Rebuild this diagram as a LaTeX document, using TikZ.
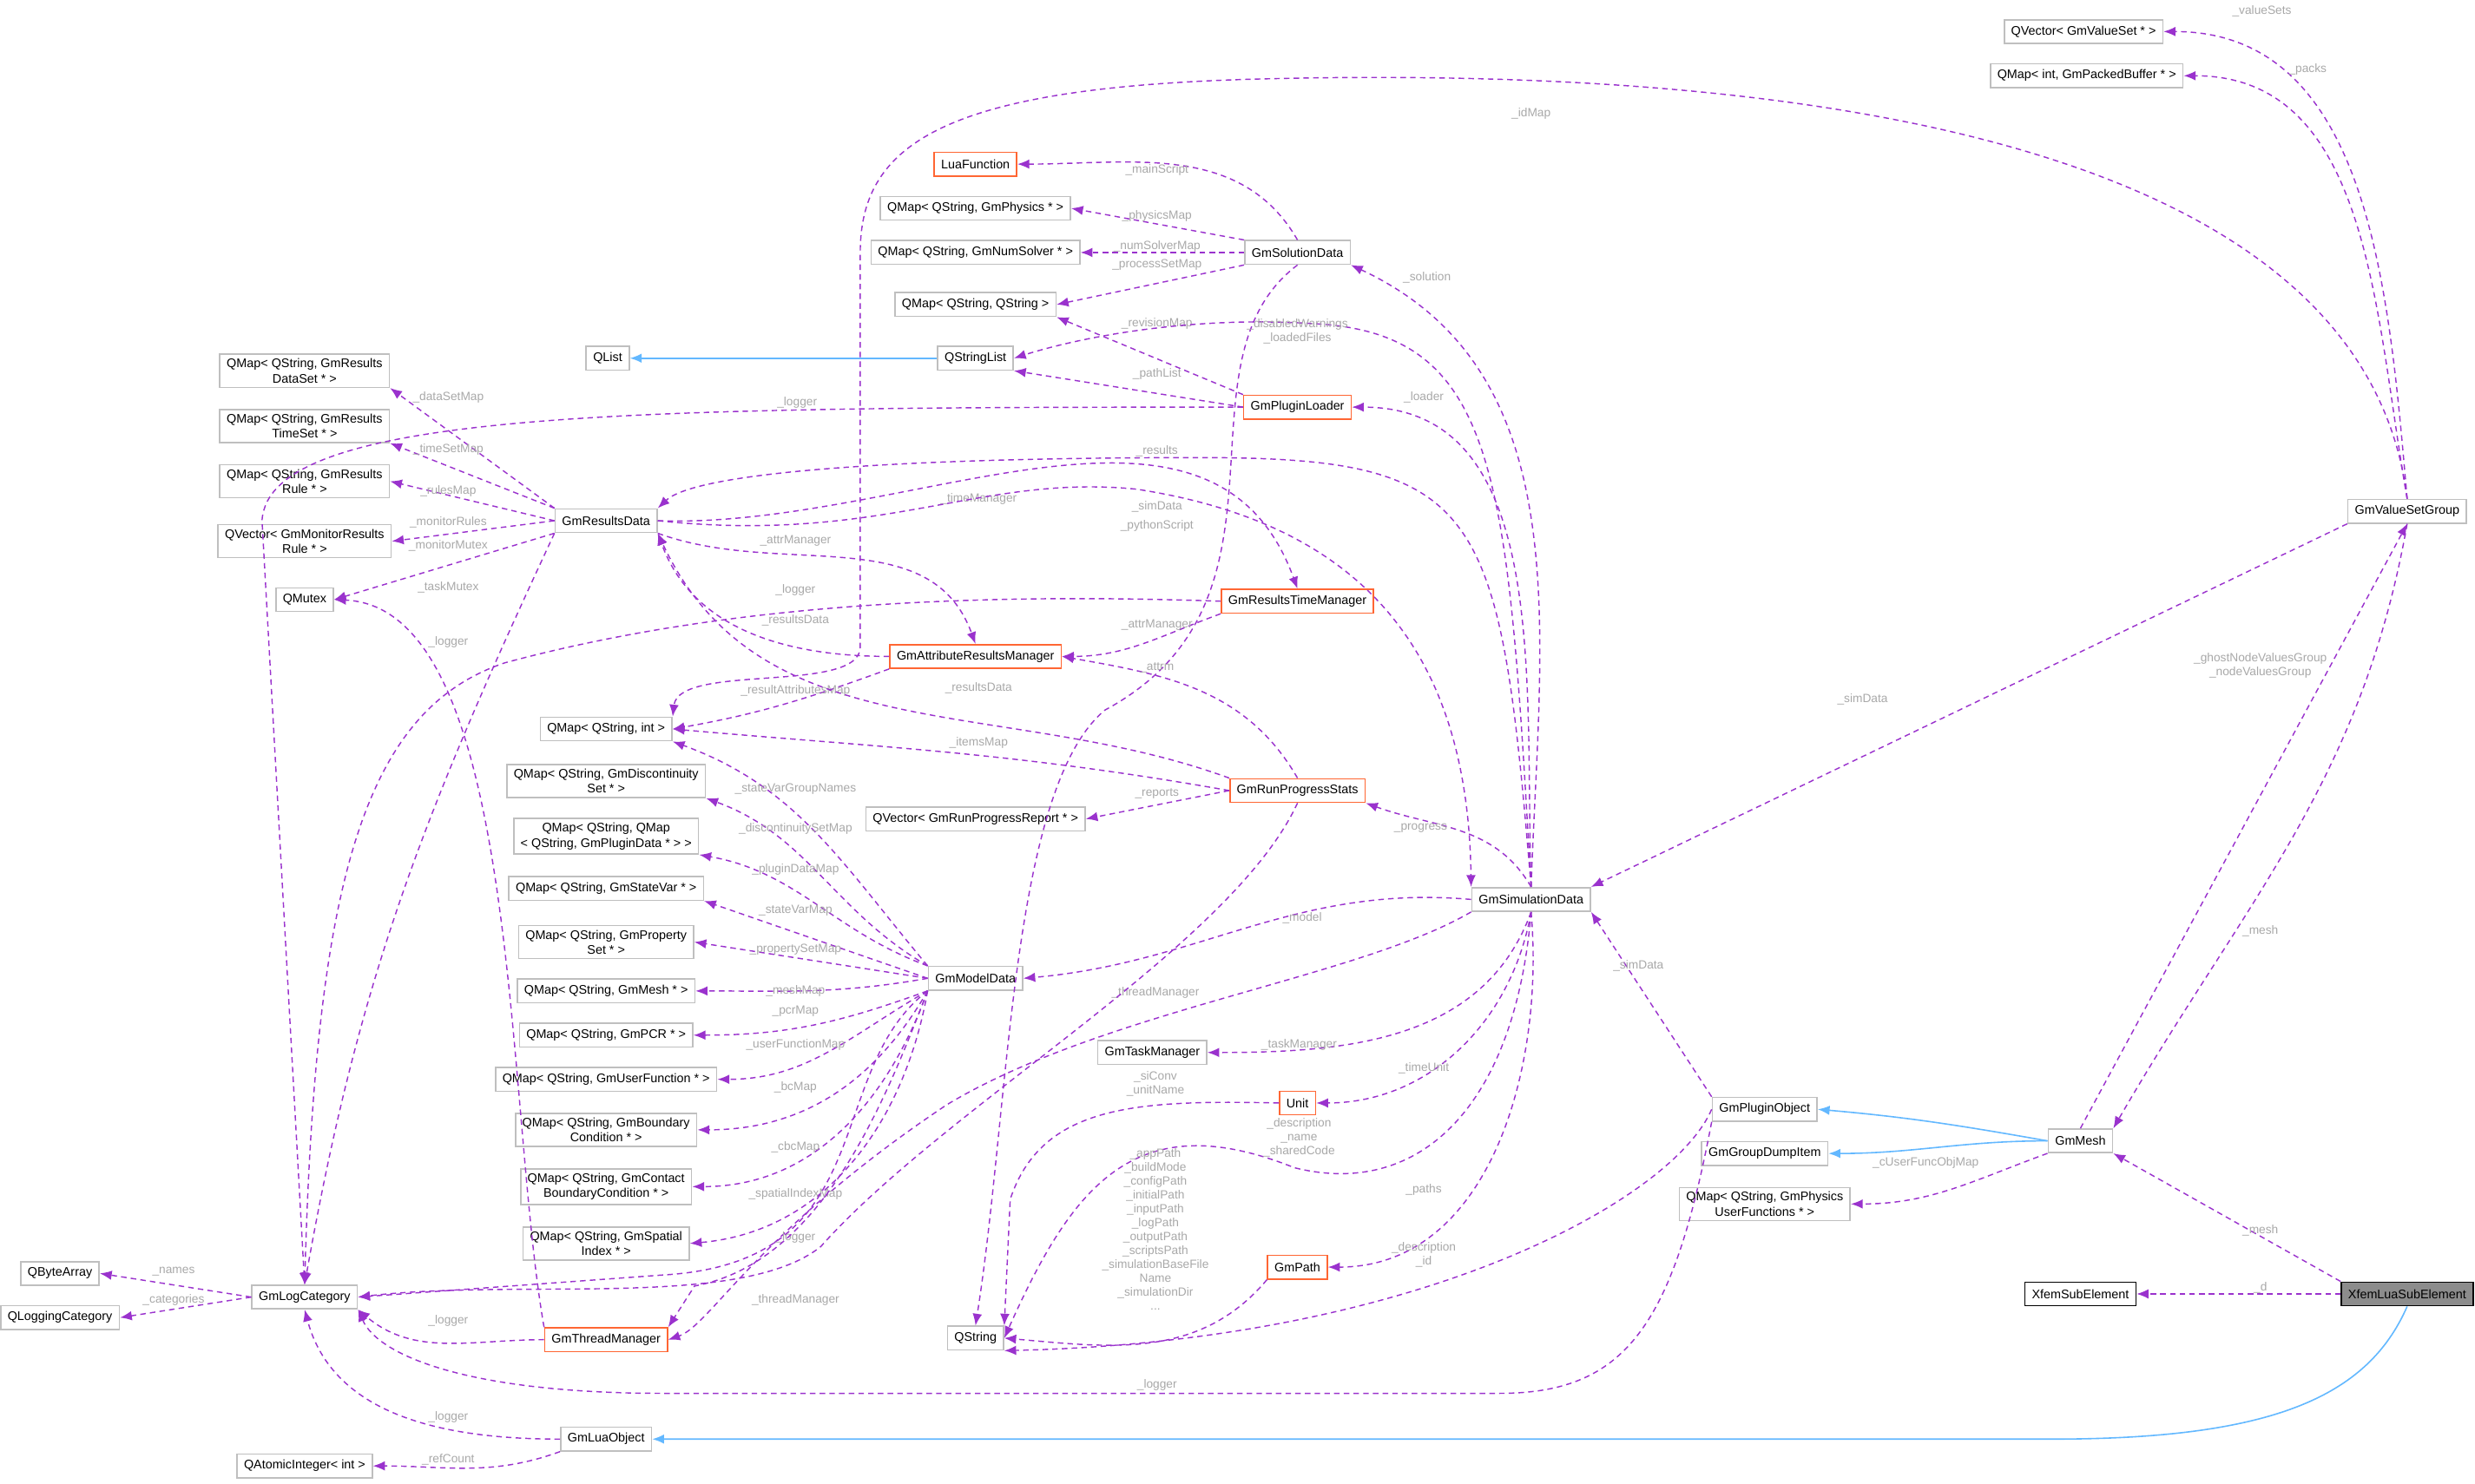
\documentclass[tikz,border=0pt]{standalone}
\usepackage{fontspec}
\setmainfont{Liberation Sans}
\usepackage{tikz}
\usetikzlibrary{arrows.meta,positioning,calc}
\definecolor{relcol}{HTML}{9A32CD}
\definecolor{inhcol}{HTML}{63B8FF}
\definecolor{boxcol}{HTML}{BFBFBF}
\definecolor{hotcol}{HTML}{FF6633}
\definecolor{lblcol}{HTML}{A8A8A8}

\begin{document}
\begin{tikzpicture}[x=0.02cm, y=-0.02cm,
    cls/.style={draw=boxcol, fill=white, line width=0.5pt, inner xsep=2.5pt, inner ysep=1.6pt,
        minimum height=0.3cm, align=center, font=\fontsize{4.5}{5.4}\selectfont},
    hot/.style={cls, draw=hotcol},
    top/.style={cls, draw=black, fill=black!45},
    rel/.style={draw=relcol, dashed, dash pattern=on 2pt off 1.5pt, line width=0.45pt,
        -{Latex[length=1.5mm,width=1.2mm]}},
    inh/.style={draw=inhcol, line width=0.5pt, -{Latex[length=1.5mm,width=1.2mm,open,fill=inhcol]}},
    lbl/.style={text=lblcol, align=center, inner sep=0pt, font=\fontsize{4.3}{5}\selectfont}]
    \useasboundingbox (0,0) rectangle (1568,940);
    % nodes
    \node[cls] (qvvs) at (1320,20) {QVector< GmValueSet * >};
    \node[cls] (qmpb) at (1322,48) {QMap< int, GmPackedBuffer * >};
    \node[hot] (luaf) at (618,104) {LuaFunction};
    \node[cls] (qmphys) at (618,132) {QMap< QString, GmPhysics * >};
    \node[cls] (qmnum) at (618,160) {QMap< QString, GmNumSolver * >};
    \node[cls] (qmqs) at (618,193) {QMap< QString, QString >};
    \node[cls] (qlist) at (385,227) {QList};
    \node[cls] (qsl) at (618,227) {QStringList};
    \node[cls] (gmsol) at (822,160) {GmSolutionData};
    \node[hot] (gmplug) at (822,258) {GmPluginLoader};
    \node[cls] (qmrds) at (193,235) {QMap< QString, GmResults\\DataSet * >};
    \node[cls] (qmrts) at (193,270) {QMap< QString, GmResults\\TimeSet * >};
    \node[cls] (qmrr) at (193,305) {QMap< QString, GmResults\\Rule * >};
    \node[cls] (qvmr) at (193,343) {QVector< GmMonitorResults\\Rule * >};
    \node[cls] (qmutex) at (193,380) {QMutex};
    \node[cls] (gmrd) at (384,330) {GmResultsData};
    \node[hot] (gmrtm) at (822,381) {GmResultsTimeManager};
    \node[hot] (gmarm) at (618,416) {GmAttributeResultsManager};
    \node[cls] (qmint) at (384,462) {QMap< QString, int >};
    \node[cls] (qmdisc) at (384,495) {QMap< QString, GmDiscontinuity\\Set * >};
    \node[cls] (qmplug) at (384,530) {QMap< QString, QMap\\< QString, GmPluginData * > >};
    \node[cls] (qmsv) at (384,563) {QMap< QString, GmStateVar * >};
    \node[cls] (qmprop) at (384,597) {QMap< QString, GmProperty\\Set * >};
    \node[cls] (qmmesh) at (384,628) {QMap< QString, GmMesh * >};
    \node[cls] (qmpcr) at (384,656) {QMap< QString, GmPCR * >};
    \node[cls] (qmuf) at (384,684) {QMap< QString, GmUserFunction * >};
    \node[cls] (qmbc) at (384,716) {QMap< QString, GmBoundary\\Condition * >};
    \node[cls] (qmcbc) at (384,752) {QMap< QString, GmContact\\BoundaryCondition * >};
    \node[cls] (qmsp) at (384,788) {QMap< QString, GmSpatial\\Index * >};
    \node[cls] (gmmodel) at (618,620) {GmModelData};
    \node[cls] (qvprog) at (618,519) {QVector< GmRunProgressReport * >};
    \node[hot] (gmrps) at (822,501) {GmRunProgressStats};
    \node[cls] (gmsim) at (970,570) {GmSimulationData};
    \node[cls] (gmtask) at (730,667) {GmTaskManager};
    \node[hot] (unit) at (822,699) {Unit};
    \node[hot] (gmpath) at (822,803) {GmPath};
    \node[cls] (qstring) at (618,848) {QString};
    \node[cls] (gmpo) at (1118,703) {GmPluginObject};
    \node[cls] (gmgdi) at (1118,731) {GmGroupDumpItem};
    \node[cls] (qmpuf) at (1118,763) {QMap< QString, GmPhysics\\UserFunctions * >};
    \node[cls] (gmmesh) at (1318,723) {GmMesh};
    \node[cls] (vsg) at (1525,324) {GmValueSetGroup};
    \node[cls, draw=black] (xse) at (1318,820) {XfemSubElement};
    \node[top] (xlse) at (1525,820) {XfemLuaSubElement};
    \node[cls] (qbyte) at (38,807) {QByteArray};
    \node[cls] (qlog) at (38,835) {QLoggingCategory};
    \node[cls] (gmlog) at (193,822) {GmLogCategory};
    \node[hot] (gmthr) at (384,849) {GmThreadManager};
    \node[cls] (gmlua) at (384,912) {GmLuaObject};
    \node[cls] (qatom) at (193,929) {QAtomicInteger< int >};
    % inheritance
    \draw[inh] (qsl) -- (qlist);
    \draw[inh] (gmmesh.west) to[out=170,in=-5] (gmpo.east);
    \draw[inh] (gmmesh.west) to[out=180,in=0] (gmgdi.east);
    \draw[inh] (xlse.south) .. controls (1500,885) and (1440,912) .. (1300,912) -- (gmlua.east);
    % value set group
    \draw[rel] (vsg.north) to[out=95,in=0] (qvvs.east) node[lbl, at={(1433,7)}] {\_valueSets};
    \draw[rel] (vsg.north) to[out=100,in=0] (qmpb.east) node[lbl, at={(1462,44)}] {\_packs};
    \draw[rel] (vsg.north) .. controls (1500,110) and (1200,40) .. (800,50)
        .. controls (600,55) and (545,90) .. (545,160) -- (545,410)
        .. controls (545,440) and (430,420) .. (qmint.north east)
        node[lbl, at={(970,72)}] {\_idMap};
    \draw[rel] (vsg.south west) -- (gmsim.north east) node[lbl, at={(1180,443)}] {\_simData};
    \draw[rel] (vsg.south) to[out=-100,in=60] (gmmesh.north east)
        node[lbl, at={(1432,422)}] {\_ghostNodeValuesGroup\\\_nodeValuesGroup};
    \draw[rel] (gmmesh.north) -- (vsg.south) node[lbl, at={(1432,590)}] {\_mesh};
    % solution data
    \draw[rel] (gmsol.north) to[out=120,in=0] (luaf.east) node[lbl, at={(733,108)}] {\_mainScript};
    \draw[rel] (gmsol.north west) -- (qmphys.east) node[lbl, at={(733,137)}] {\_physicsMap};
    \draw[rel] (gmsol.west) -- (qmnum.east) node[lbl, at={(733,156)}] {\_numSolverMap};
    \draw[rel] (gmsol.south west) -- (qmqs.east) node[lbl, at={(733,168)}] {\_processSetMap};
    \draw[rel] (gmsol.south) .. controls (740,230) and (830,380) .. (700,450)
        .. controls (640,500) and (640,700) .. (qstring.north) node[lbl, at={(733,333)}] {\_pythonScript};
    % plugin loader
    \draw[rel] (gmplug.north west) -- (qmqs.south east) node[lbl, at={(733,205)}] {\_revisionMap};
    \draw[rel] (gmplug.west) -- (qsl.south east) node[lbl, at={(733,237)}] {\_pathList};
    \draw[rel] (gmplug.west) .. controls (400,258) and (170,260) .. (166,330) -- (gmlog.north)
        node[lbl, at={(505,255)}] {\_logger};
    % simulation data
    \draw[rel] (gmsim.north) to[out=88,in=-25] (gmsol.south east) node[lbl, at={(904,176)}] {\_solution};
    \draw[rel] (gmsim.north) .. controls (955,300) and (950,210) .. (830,205)
        .. controls (750,200) and (680,215) .. (qsl.east) node[lbl, at={(822,210)}] {\_disabledWarnings\\\_loadedFiles};
    \draw[rel] (gmsim.north) to[out=92,in=0] (gmplug.east) node[lbl, at={(902,252)}] {\_loader};
    \draw[rel] (gmsim.north) .. controls (950,320) and (940,290) .. (760,290)
        .. controls (560,290) and (440,300) .. (gmrd.north east) node[lbl, at={(733,286)}] {\_results};
    \draw[rel] (gmsim.north) to[out=120,in=-20] (gmrps.south east) node[lbl, at={(900,525)}] {\_progress};
    \draw[rel] (gmsim.west) to[out=175,in=5] (gmmodel.east) node[lbl, at={(825,582)}] {\_model};
    \draw[rel] (gmsim.south west) .. controls (860,620) and (700,640) .. (600,700)
        .. controls (480,780) and (450,840) .. (gmthr.east) node[lbl, at={(732,629)}] {\_threadManager};
    \draw[rel] (gmsim.south) to[out=-110,in=0] (gmtask.east) node[lbl, at={(823,662)}] {\_taskManager};
    \draw[rel] (gmsim.south) to[out=-100,in=0] (unit.east) node[lbl, at={(902,677)}] {\_timeUnit};
    \draw[rel] (gmsim.south) .. controls (960,700) and (900,760) .. (820,740)
        .. controls (720,700) and (680,750) .. (qstring.east) node[lbl, at={(823,721)}] {\_description\\\_name\\\_sharedCode};
    \draw[rel] (gmsim.south) to[out=-85,in=0] (gmpath.east) node[lbl, at={(902,754)}] {\_paths};
    % results data
    \draw[rel] (gmrd.north west) -- (qmrds.south east) node[lbl, at={(284,252)}] {\_dataSetMap};
    \draw[rel] (gmrd.north west) -- (qmrts.south east) node[lbl, at={(284,285)}] {\_timeSetMap};
    \draw[rel] (gmrd.west) -- (qmrr.east) node[lbl, at={(284,311)}] {\_rulesMap};
    \draw[rel] (gmrd.west) -- (qvmr.east) node[lbl, at={(284,331)}] {\_monitorRules};
    \draw[rel] (gmrd.south west) -- (qmutex.east) node[lbl, at={(284,346)}] {\_monitorMutex};
    \draw[rel] (gmrd.south west) to[out=-115,in=80] (gmlog.north) node[lbl, at={(284,407)}] {\_logger};
    \draw[rel] (gmrd.south east) to[out=-20,in=110] (gmarm.north) node[lbl, at={(504,343)}] {\_attrManager};
    \draw[rel] (gmrd.east) to[out=-2,in=110] (gmrtm.north) node[lbl, at={(620,316)}] {\_timeManager};
    \draw[rel] (gmrd.east) .. controls (560,345) and (620,300) .. (720,310)
        .. controls (850,330) and (930,400) .. (gmsim.north west) node[lbl, at={(733,321)}] {\_simData};
    % time and attribute managers
    \draw[rel] (gmrtm.south west) to[out=-160,in=0] (gmarm.east) node[lbl, at={(733,396)}] {\_attrManager};
    \draw[rel] (gmrtm.west) .. controls (600,375) and (450,385) .. (320,420)
        .. controls (230,450) and (200,560) .. (gmlog.north) node[lbl, at={(504,374)}] {\_logger};
    \draw[rel] (gmarm.west) to[out=180,in=-70] (gmrd.south east) node[lbl, at={(504,393)}] {\_resultsData};
    \draw[rel] (gmarm.south west) to[out=-160,in=10] (qmint.east) node[lbl, at={(504,438)}] {\_resultAttributesMap};
    % run progress stats
    \draw[rel] (gmrps.north) to[out=120,in=-10] (gmarm.east) node[lbl, at={(733,423)}] {\_attrm};
    \draw[rel] (gmrps.north west) to[out=160,in=-65] (gmrd.south east) node[lbl, at={(620,436)}] {\_resultsData};
    \draw[rel] (gmrps.west) to[out=170,in=-5] (qmint.east) node[lbl, at={(620,471)}] {\_itemsMap};
    \draw[rel] (gmrps.west) -- (qvprog.east) node[lbl, at={(733,503)}] {\_reports};
    \draw[rel] (gmrps.south) .. controls (780,600) and (600,700) .. (520,790)
        .. controls (470,830) and (330,810) .. (gmlog.east);
    % model data
    \draw[rel] (gmmodel.north west) to[out=130,in=-20] (qmint.south east) node[lbl, at={(504,500)}] {\_stateVarGroupNames};
    \draw[rel] (gmmodel.north west) to[out=150,in=-20] (qmdisc.south east) node[lbl, at={(504,525)}] {\_discontinuitySetMap};
    \draw[rel] (gmmodel.north west) to[out=160,in=-10] (qmplug.south east) node[lbl, at={(504,551)}] {\_pluginDataMap};
    \draw[rel] (gmmodel.west) -- (qmsv.south east) node[lbl, at={(504,577)}] {\_stateVarMap};
    \draw[rel] (gmmodel.west) -- (qmprop.east) node[lbl, at={(504,602)}] {\_propertySetMap};
    \draw[rel] (gmmodel.west) to[out=-170,in=0] (qmmesh.east) node[lbl, at={(504,628)}] {\_meshMap};
    \draw[rel] (gmmodel.south west) to[out=-160,in=0] (qmpcr.east) node[lbl, at={(504,641)}] {\_pcrMap};
    \draw[rel] (gmmodel.south west) to[out=-150,in=0] (qmuf.east) node[lbl, at={(504,662)}] {\_userFunctionMap};
    \draw[rel] (gmmodel.south west) to[out=-120,in=0] (qmbc.east) node[lbl, at={(504,689)}] {\_bcMap};
    \draw[rel] (gmmodel.south west) to[out=-110,in=0] (qmcbc.east) node[lbl, at={(504,727)}] {\_cbcMap};
    \draw[rel] (gmmodel.south west) to[out=-100,in=5] (qmsp.east) node[lbl, at={(504,757)}] {\_spatialIndexMap};
    \draw[rel] (gmmodel.south west) .. controls (520,680) and (560,800) .. (420,808)
        -- (gmlog.east) node[lbl, at={(504,784)}] {\_logger};
    \draw[rel] (gmmodel.south west) .. controls (560,700) and (520,800) .. (440,815)
        -- (gmthr.north east) node[lbl, at={(504,824)}] {\_threadManager};
    % thread manager and lua object
    \draw[rel] (gmthr.west) to[out=180,in=-40] (gmlog.south east) node[lbl, at={(284,837)}] {\_logger};
    \draw[rel] (gmthr.north west) .. controls (320,700) and (330,385) .. (qmutex.east)
        node[lbl, at={(284,372)}] {\_taskMutex};
    \draw[rel] (gmlua.west) to[out=180,in=-75] (gmlog.south) node[lbl, at={(284,898)}] {\_logger};
    \draw[rel] (gmlua.south west) to[out=-160,in=0] (qatom.east) node[lbl, at={(284,925)}] {\_refCount};
    \draw[rel] (gmlog.west) -- (qbyte.east) node[lbl, at={(110,806)}] {\_names};
    \draw[rel] (gmlog.west) -- (qlog.east) node[lbl, at={(110,824)}] {\_categories};
    % units, paths, strings
    \draw[rel] (unit.west) .. controls (720,697) and (660,700) .. (640,760) -- (qstring.north east)
        node[lbl, at={(732,687)}] {\_siConv\\\_unitName};
    \draw[rel] (gmpath.south west) to[out=-130,in=-5] (qstring.east) node[lbl, at={(732,779)}]
        {\_appPath\\\_buildMode\\\_configPath\\\_initialPath\\\_inputPath\\\_logPath\\\_outputPath\\\_scriptsPath\\\_simulationBaseFile\\Name\\\_simulationDir\\...};
    % plugin object, mesh, xfem
    \draw[rel] (gmpo.north west) -- (gmsim.south east) node[lbl, at={(1038,612)}] {\_simData};
    \draw[rel] (gmpo.west) .. controls (1060,760) and (900,850) .. (qstring.south east)
        node[lbl, at={(902,795)}] {\_description\\\_id};
    \draw[rel] (gmpo.south west) .. controls (1060,840) and (1030,883) .. (950,883) -- (420,883)
        .. controls (300,883) and (240,860) .. (gmlog.south east) node[lbl, at={(733,878)}] {\_logger};
    \draw[rel] (gmmesh.south west) to[out=-160,in=0] (qmpuf.east) node[lbl, at={(1220,737)}] {\_cUserFuncObjMap};
    \draw[rel] (xlse.north west) -- (gmmesh.south east) node[lbl, at={(1432,780)}] {\_mesh};
    \draw[rel] (xlse.west) -- (xse.east) node[lbl, at={(1432,816)}] {\_d};
\end{tikzpicture}
\end{document}
